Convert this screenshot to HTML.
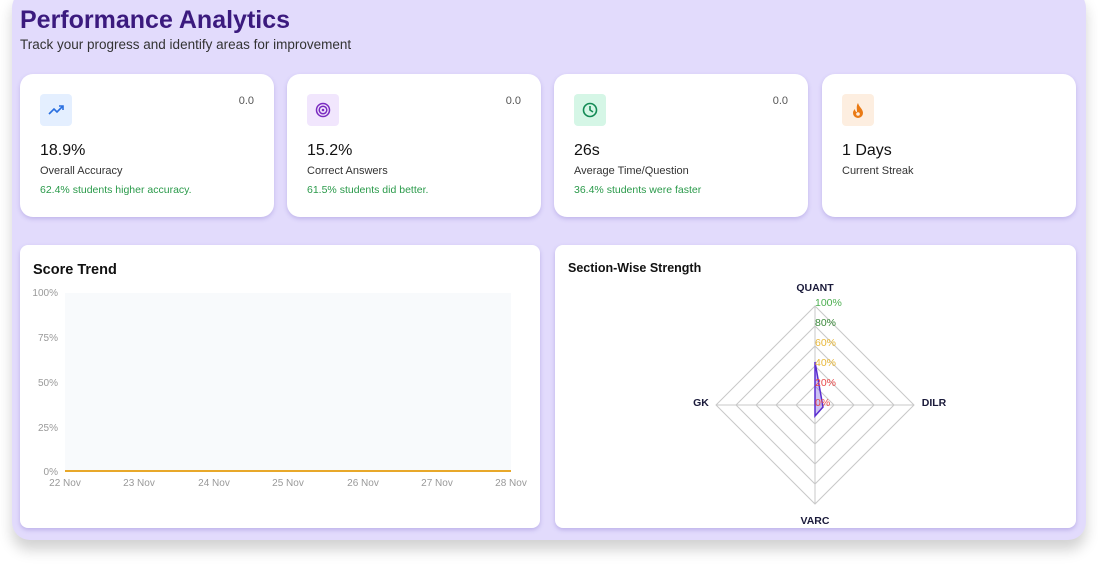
<!DOCTYPE html>
<html><head><meta charset="utf-8"><style>
*{box-sizing:border-box;margin:0;padding:0}
body{width:1098px;height:564px;background:#fff;font-family:"Liberation Sans",sans-serif;position:relative;overflow:hidden}
.panel{position:absolute;left:12px;top:-10px;width:1074px;height:550px;background:#e2dbfc;border-radius:18px;box-shadow:0 10px 14px rgba(0,0,0,.18)}
h1{position:absolute;left:20px;top:6px;font-size:25px;color:#3b1a7e;font-weight:bold}
.sub{position:absolute;left:20px;top:37px;font-size:13.5px;color:#333}
.card{position:absolute;top:74px;height:143px;width:254px;background:#fff;border-radius:13px;box-shadow:0 2px 4px rgba(120,100,200,.3)}
.ic{position:absolute;left:20px;top:20px;width:32px;height:32px;border-radius:4px;display:flex;align-items:center;justify-content:center}
.zz{position:absolute;right:20px;top:21px;font-size:11px;color:#555}
.v{position:absolute;left:20px;top:68px;font-size:16px;color:#111}
.l{position:absolute;left:20px;top:91px;font-size:11px;color:#333}
.g{position:absolute;left:20px;top:110px;font-size:10.5px;color:#2a9a4a}
.big{position:absolute;top:245px;height:283px;background:#fff;border-radius:8px;box-shadow:0 2px 4px rgba(120,100,200,.35)}
</style></head><body>
<div class="panel"></div>
<h1>Performance Analytics</h1>
<div class="sub">Track your progress and identify areas for improvement</div>

<div class="card" style="left:20px"><div class="ic" style="background:#e4efff"><svg width="16" height="12"><polyline points="1,10 6,5 9,8 15,2" fill="none" stroke="#2a6fe0" stroke-width="1.6"/><polyline points="11,2 15,2 15,6" fill="none" stroke="#2a6fe0" stroke-width="1.6"/></svg></div><div class="zz">0.0</div><div class="v">18.9%</div><div class="l">Overall Accuracy</div><div class="g">62.4% students higher accuracy.</div></div>
<div class="card" style="left:287px"><div class="ic" style="background:#f1e6fd"><svg width="16" height="16"><circle cx="8" cy="8" r="6.5" fill="none" stroke="#7a2bc0" stroke-width="1.5"/><circle cx="8" cy="8" r="3.8" fill="none" stroke="#7a2bc0" stroke-width="1.5"/><circle cx="8" cy="8" r="1.3" fill="#7a2bc0"/></svg></div><div class="zz">0.0</div><div class="v">15.2%</div><div class="l">Correct Answers</div><div class="g">61.5% students did better.</div></div>
<div class="card" style="left:554px"><div class="ic" style="background:#d5f6e6"><svg width="16" height="16"><circle cx="8" cy="8" r="6.5" fill="none" stroke="#138a55" stroke-width="1.6"/><polyline points="8,4 8,8 11,10" fill="none" stroke="#138a55" stroke-width="1.6"/></svg></div><div class="zz">0.0</div><div class="v">26s</div><div class="l">Average Time/Question</div><div class="g">36.4% students were faster</div></div>
<div class="card" style="left:822px"><div class="ic" style="background:#fdeee0"><svg width="14" height="16"><path d="M7 1C8 5 12 7 12 11a5 5 0 0 1-10 0c0-2 1-3 2-4 0 2 1 3 2 3C6 7 5 4 7 1z" fill="#ea7a14"/><circle cx="7" cy="12" r="1.8" fill="#fdeee0"/></svg></div><div class="v">1 Days</div><div class="l">Current Streak</div></div>

<div class="big" style="left:20px;width:520px"></div>
<div class="big" style="left:555px;width:521px"></div>
<svg style="position:absolute;left:0;top:0" width="1098" height="564" font-family="Liberation Sans, sans-serif">
<text x="33" y="274" font-size="14.5" font-weight="bold" fill="#111">Score Trend</text>
<rect x="65" y="293" width="446" height="178" fill="#f8fafc"/>
<g font-size="10" fill="#999" text-anchor="end">
<text x="58" y="296">100%</text><text x="58" y="341">75%</text><text x="58" y="386">50%</text><text x="58" y="431">25%</text><text x="58" y="475">0%</text></g>
<line x1="65" y1="471" x2="511" y2="471" stroke="#e8a82a" stroke-width="2"/>
<g font-size="10" fill="#999" text-anchor="middle">
<text x="65" y="486">22 Nov</text><text x="139" y="486">23 Nov</text><text x="214" y="486">24 Nov</text><text x="288" y="486">25 Nov</text><text x="363" y="486">26 Nov</text><text x="437" y="486">27 Nov</text><text x="511" y="486">28 Nov</text></g>

<text x="568" y="272" font-size="12.5" font-weight="bold" fill="#111">Section-Wise Strength</text>
<g fill="none" stroke="#c8c8c8" stroke-width="1">
<polygon points="815,306 914,405 815,504 716,405"/>
<polygon points="815,326 894,405 815,484 736,405"/>
<polygon points="815,346 874,405 815,464 756,405"/>
<polygon points="815,366 854,405 815,444 776,405"/>
<polygon points="815,386 834,405 815,424 796,405"/>
<line x1="815" y1="306" x2="815" y2="504"/><line x1="716" y1="405" x2="914" y2="405"/></g>
<polygon points="815,362 823,407 815,416 815,405" fill="rgba(110,80,220,.35)" stroke="#5a2dd0" stroke-width="1.5"/>
<g font-size="10.5">
<text x="815" y="306" fill="#4caf50">100%</text><text x="815" y="326" fill="#3b8a3b">80%</text><text x="815" y="346" fill="#e8b83a">60%</text><text x="815" y="366" fill="#e8b83a">40%</text><text x="815" y="386" fill="#e84a4a">20%</text><text x="815" y="406" fill="#e84a4a">0%</text></g>
<g font-size="10.5" font-weight="bold" fill="#1a1a3a" text-anchor="middle">
<text x="815" y="291">QUANT</text><text x="934" y="406">DILR</text><text x="815" y="524">VARC</text><text x="701" y="406">GK</text></g>
</svg>
</body></html>
